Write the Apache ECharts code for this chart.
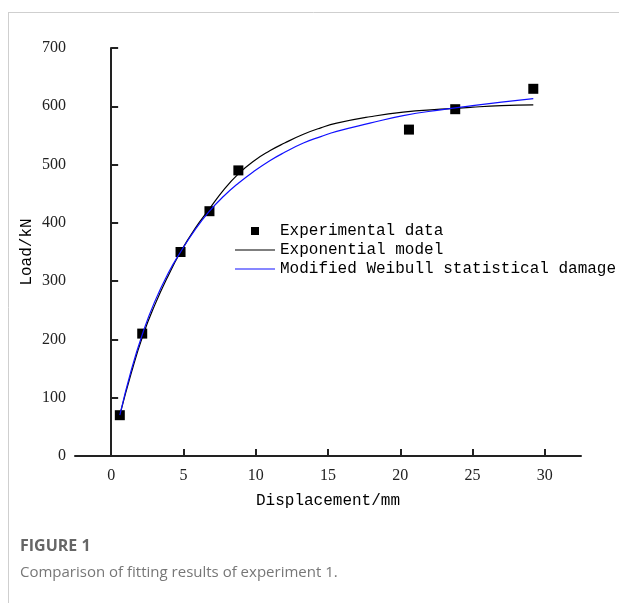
<!DOCTYPE html>
<html>
<head>
<meta charset="utf-8">
<script src="https://cdn.jsdelivr.net/npm/echarts@6/dist/echarts.min.js"></script>
<style>
  html, body { margin: 0; padding: 0; background: #fff; }
  #chart { width: 619px; height: 603px; }
</style>
</head>
<body>
<div id="chart"></div>
<script>
// experimental points
const dispX = [0.6, 2.15, 4.8, 6.8, 8.8, 20.6, 23.8, 29.2]
const loadY = [70, 210, 350, 420, 490, 560, 595, 630]

// exponential model curve
const expX = [0.6, 1.4, 2.2, 3, 4, 4.8, 5.8, 6.8, 7.8, 8.8, 9.8, 11, 12, 13.3, 14.5, 15.6, 17.9, 20.2, 22.8, 25, 27, 29.2]
const expY = [70, 143, 207, 258, 312, 350, 390, 424, 457, 484, 505, 524, 537, 552, 563, 571, 582, 590, 595, 598.5, 601, 602.5]

// modified Weibull statistical damage curve
const weibX = [0.6, 1.4, 2.2, 3, 4, 4.8, 5.8, 6.8, 7.8, 8.8, 9.8, 11, 12, 13.3, 14.5, 15.6, 17.9, 20.2, 22.8, 25, 27, 29.2]
const weibY = [70, 148, 212, 264, 316, 350, 388, 420, 446, 468, 487, 507, 521, 537, 548, 557, 571, 584, 594, 601, 607, 613]

const xTicks = [0, 5, 10, 15, 20, 25, 30]
const seriesNames = ['Experimental data', 'Exponential model', 'Modified Weibull statistical damage']

const zip = (xs, ys) => xs.map((x, i) => [x, ys[i]])

const chart = echarts.init(document.getElementById('chart'))

chart.setOption({
  animation: false,
  title: [
    {
      text: 'FIGURE 1',
      left: 20,
      top: 538,
      padding: 0,
      textStyle: { fontFamily: 'Open Sans', fontWeight: 'bold', fontSize: 16, color: '#666' }
    },
    {
      text: 'Comparison of fitting results of experiment 1.',
      left: 20,
      top: 565,
      padding: 0,
      textStyle: { fontFamily: 'Open Sans', fontWeight: 'normal', fontSize: 15, color: '#777' }
    }
  ],
  graphic: [
    { type: 'line', shape: { x1: 8, y1: 12.5, x2: 619, y2: 12.5 }, style: { stroke: '#cfcfcf', lineWidth: 1 } },
    { type: 'line', shape: { x1: 8.5, y1: 12, x2: 8.5, y2: 603 }, style: { stroke: '#cfcfcf', lineWidth: 1 } }
  ],
  legend: {
    orient: 'vertical',
    left: 235,
    top: 223,
    padding: 0,
    itemWidth: 40,
    itemHeight: 8,
    itemGap: 3,
    textStyle: { fontFamily: 'Liberation Mono', fontSize: 16, color: '#000' },
    data: [
      { name: seriesNames[0], icon: 'path://M0,0H10V10H0Z' },
      { name: seriesNames[1], icon: 'path://M0,0H40V1.2H0Z' },
      { name: seriesNames[2], icon: 'path://M0,0H40V1.2H0Z' }
    ]
  },
  grid: {
    left: 75,
    right: 38,
    top: 48,
    bottom: 147,
    containLabel: false,
    outerBoundsMode: 'none'
  },
  xAxis: {
    type: 'value',
    min: -2.5,
    max: 32.5,
    name: 'Displacement/mm',
    nameLocation: 'middle',
    nameGap: 37,
    nameTextStyle: { fontFamily: 'Liberation Mono', fontSize: 16, color: '#000' },
    axisLine: { lineStyle: { color: '#222', width: 2 } },
    axisTick: { inside: true, length: 7, customValues: xTicks, lineStyle: { color: '#222', width: 2 } },
    axisLabel: { customValues: xTicks, margin: 12, fontFamily: 'Liberation Serif', fontSize: 16, color: '#222' },
    splitLine: { show: false }
  },
  yAxis: {
    type: 'value',
    min: 0,
    max: 700,
    interval: 100,
    name: 'Load/kN',
    nameLocation: 'middle',
    nameGap: 40,
    nameMoveOverlap: false,
    nameTextStyle: { fontFamily: 'Liberation Mono', fontSize: 16, color: '#000' },
    axisLine: { show: true, lineStyle: { color: '#222', width: 2 } },
    axisTick: { show: true, inside: true, length: 7, lineStyle: { color: '#222', width: 2 } },
    axisLabel: { margin: 9, fontFamily: 'Liberation Serif', fontSize: 16, color: '#222' },
    splitLine: { show: false }
  },
  series: [
    {
      name: seriesNames[1],
      type: 'line',
      smooth: true,
      symbol: 'none',
      lineStyle: { color: '#000', width: 1.2 },
      itemStyle: { color: '#000' },
      data: zip(expX, expY),
      z: 2
    },
    {
      name: seriesNames[2],
      type: 'line',
      smooth: true,
      symbol: 'none',
      lineStyle: { color: '#1010ff', width: 1.2 },
      itemStyle: { color: '#1010ff' },
      data: zip(weibX, weibY),
      z: 3
    },
    {
      name: seriesNames[0],
      type: 'scatter',
      symbol: 'rect',
      symbolSize: 10,
      itemStyle: { color: '#000', opacity: 1 },
      data: zip(dispX, loadY),
      z: 1
    }
  ]
})
</script>
</body>
</html>
